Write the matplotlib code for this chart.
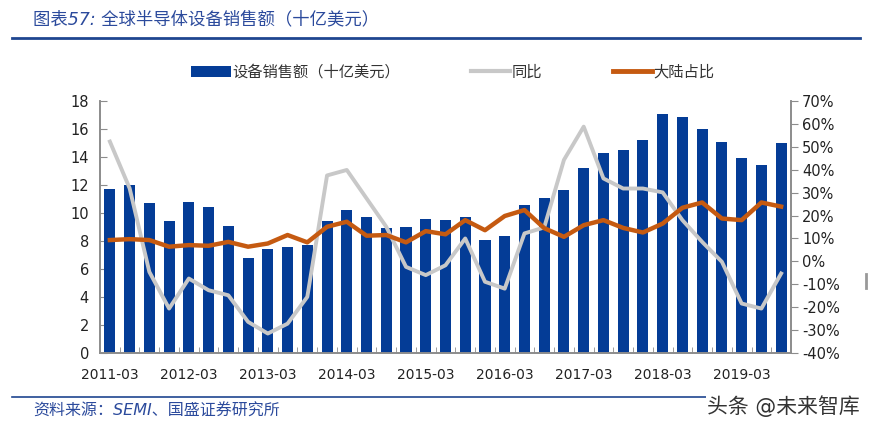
import numpy as np
import matplotlib
matplotlib.use('Agg')
import matplotlib.pyplot as plt
from matplotlib.lines import Line2D
from matplotlib.patches import Patch

plt.rcParams['font.family'] = ['DejaVu Sans', 'Noto Sans CJK SC']

# quarterly, 2011-03 .. 2019-09
quarters = [f'{y}-{m:02d}' for y in range(2011, 2020) for m in (3, 6, 9, 12)][:35]

sales = [11.7, 12.0, 10.7, 9.4, 10.8, 10.4, 9.1, 6.8, 7.4, 7.6, 7.7, 9.4,
         10.2, 9.7, 8.9, 9.0, 9.55, 9.5, 9.7, 8.1, 8.35, 10.6, 11.1, 11.65,
         13.2, 14.3, 14.5, 15.2, 17.1, 16.85, 16.0, 15.1, 13.9, 13.45, 15.0]

yoy = [52.3, 31.9, -4.6, -20.6, -7.5, -12.6, -14.8, -26.4, -31.5, -27.2, -15.5, 37.5,
       39.9, 27.5, 15.1, -2.4, -6.0, -1.7, 10.0, -8.9, -11.9, 12.2, 14.8, 44.3,
       58.8, 36.2, 31.8, 31.8, 30.1, 18.0, 8.5, -0.2, -18.4, -20.6, -5.3]

china_share = [9.3, 9.7, 9.3, 6.4, 7.1, 6.8, 8.5, 6.4, 7.8, 11.5, 8.3, 15.1,
               17.3, 11.2, 11.5, 8.3, 13.2, 11.8, 18.0, 13.6, 19.8, 22.4, 14.5, 10.7,
               15.8, 18.0, 14.6, 12.6, 16.5, 23.4, 25.7, 18.7, 18.0, 25.7, 23.9]

blue = '#043C96'
gray = '#C8C8C8'
orange = '#C55A11'
axis_gray = '#8C8C8C'
title_blue = '#2B4A9C'

x = np.arange(len(quarters))

fig = plt.figure(figsize=(8.69, 4.30), dpi=100)
ax = fig.add_axes([100 / 869, 1 - 353 / 430, 691 / 869, 252 / 430])
ax2 = ax.twinx()

ax.bar(x, sales, width=0.56, color=blue, zorder=2)
ax2.plot(x, yoy, color=gray, lw=2.8, zorder=3)
ax2.plot(x, china_share, color=orange, lw=3.2, zorder=4)
ax.set_zorder(1)
ax2.set_zorder(2)
ax.patch.set_visible(False)

ax.set_xlim(-0.5, len(x) - 0.5)
ax.set_ylim(0, 18)
ax.set_yticks(range(0, 19, 2))
ax2.set_ylim(-40, 70)
ax2.set_yticks(range(-40, 71, 10))
ax2.set_yticklabels([f'{v}%' for v in range(-40, 71, 10)])

ax.set_xticks(x[::4])
ax.set_xticklabels(quarters[::4])
ax.set_xticks(x[:-1] + 0.5, minor=True)

for a in (ax, ax2):
    a.spines['top'].set_visible(False)
    for s in ('left', 'right', 'bottom'):
        a.spines[s].set_color(axis_gray)
        a.spines[s].set_linewidth(1.2)

ax.tick_params(axis='y', direction='in', length=5, color=axis_gray, labelsize=10.5,
               labelcolor='#222222', pad=8)
ax.tick_params(axis='x', which='major', length=0, labelsize=10, labelcolor='#222222', pad=11)
ax.tick_params(axis='x', which='minor', direction='in', length=4, color=axis_gray)
ax2.tick_params(axis='y', direction='out', length=5, color=axis_gray, labelsize=10.5,
                labelcolor='#222222', pad=3)

handles = [Patch(facecolor=blue, edgecolor='none'),
           Line2D([], [], color=gray, lw=3),
           Line2D([], [], color=orange, lw=3.5)]
labels = ['设备销售额（十亿美元）', '同比', '大陆占比']
fig.legend(handles, labels, loc='center', bbox_to_anchor=(453 / 869, 1 - 72 / 430),
           ncol=3, frameon=False, fontsize=11, handlelength=2.6, handleheight=0.7,
           handletextpad=0.1, columnspacing=4.6, labelcolor='#333333')

# header and footer
fig.text(33 / 869, 1 - 19 / 430, '图表57: 全球半导体设备销售额（十亿美元）',
         fontsize=12.5, color=title_blue, va='center', ha='left', style='italic')
fig.add_artist(Line2D([12 / 869, 860 / 869], [1 - 38 / 430] * 2, color='#1F4690', lw=2))
fig.add_artist(Line2D([12 / 869, 860 / 869], [1 - 397 / 430] * 2, color='#1F4690', lw=1.2))
fig.text(33 / 869, 1 - 411 / 430, '资料来源：SEMI、国盛证券研究所',
         fontsize=11.5, color=title_blue, va='center', ha='left', style='italic')
fig.text(860 / 869, 1 - 406 / 430, '头条 @未来智库', fontsize=15, color='#333333',
         va='center', ha='right',
         bbox=dict(facecolor='white', edgecolor='none', pad=1))
fig.add_artist(Line2D([866 / 869] * 2, [1 - 274 / 430, 1 - 288 / 430], color='#999999', lw=2))

fig.savefig('out.png', dpi=100)
